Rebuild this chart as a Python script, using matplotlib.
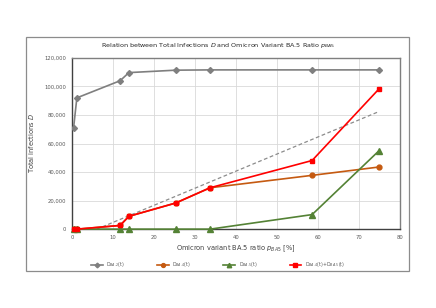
import numpy as np
import matplotlib; matplotlib.use("Agg")
import matplotlib.pyplot as plt
from matplotlib.patches import Rectangle
from matplotlib.ticker import FuncFormatter

# values (x = BA.5 ratio in %, y = infections)
p_ba5 = [0.4, 1.2, 11.75, 13.9, 25.3, 33.7, 58.6, 74.8]
d_gray = [71000, 92000, 104000, 109700, 111400, 111600, 111600, 111600]
d_orange = [0, 0, 2600, 9000, 18300, 29000, 37700, 43500]
d_green = [0, 0, 0, 0, 0, 0, 10200, 54600]
d_red = [0, 0, 2600, 9000, 18300, 29000, 48100, 97900]
labels = [r"D$_{BA.2}$(t)", r"D$_{BA.4}$(t)", r"D$_{BA.5}$(t)", r"D$_{BA.4}$(t)+D$_{BA.5}$(t)"]
xticks = [0, 10, 20, 30, 40, 50, 60, 70, 80]
yticks = [0, 20000, 40000, 60000, 80000, 100000, 120000]

TXT = "#595959"
fig = plt.figure(figsize=(4.36, 3.08), dpi=100)
fig.patches.append(Rectangle((0.06, 0.12), 0.878, 0.76, transform=fig.transFigure,
                             fill=False, ec="#8c8c8c", lw=0.9))
ax = fig.add_axes([0.165, 0.256, 0.752, 0.556])

ax.plot(p_ba5, d_gray, "D-", color="#7f7f7f", ms=3, lw=1.2, label=labels[0], zorder=3)
ax.plot(p_ba5, d_orange, "o-", color="#C55A11", ms=3.5, lw=1.2, label=labels[1], zorder=3)
ax.plot(p_ba5, d_green, "^-", color="#548235", ms=4, lw=1.2, label=labels[2], zorder=5,
        clip_on=False)
ax.plot(p_ba5, d_red, "s-", color="#FF0000", ms=3.5, lw=1.2, label=labels[3], zorder=6,
        clip_on=False)
# linear trendline of the sum, like Excel's
k, b = np.polyfit(p_ba5, d_red, 1)
xs = np.array([p_ba5[0], p_ba5[-1]])
ax.plot(xs, k * xs + b, ls=(0, (3, 2)), color="#8c8c8c", lw=0.9, zorder=2)

ax.set_xlim(0, 80); ax.set_ylim(0, 120000)
ax.set_xticks(xticks); ax.set_yticks(yticks)
ax.yaxis.set_major_formatter(FuncFormatter(lambda v, _: f"{int(v):,}"))
ax.tick_params(labelsize=3.8, colors=TXT, length=0, pad=4)
ax.grid(color="#d9d9d9", lw=0.6)
for s in ax.spines.values():
    s.set_color("#7f7f7f"); s.set_linewidth(1.0)
ax.spines["left"].set_color("#404040"); ax.spines["bottom"].set_color("#404040")

ax.set_xlabel(r"Omicron variant BA.5 ratio $p_{BA5}$ [%]", fontsize=4.8, color="#404040", labelpad=3)
ax.set_ylabel(r"Total infections $D$", fontsize=4.8, color="#404040", labelpad=6)
fig.text(0.5, 0.853, r"Relation between Total Infections $D$ and Omicron Variant BA.5 Ratio $p_{BA5}$",
         ha="center", va="center", fontsize=4.6, color="#262626")
fig.legend(loc="center", bbox_to_anchor=(0.5, 0.14), ncol=4, fontsize=3.3, frameon=False,
           handlelength=2.5, columnspacing=7, markerscale=0.8, labelcolor=TXT)

fig.savefig("out.png", dpi=100)
